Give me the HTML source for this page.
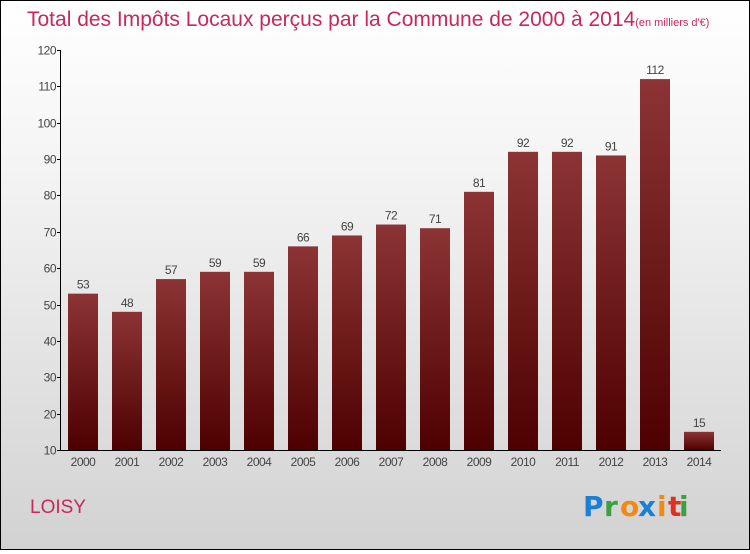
<!DOCTYPE html>
<html><head><meta charset="utf-8"><style>
html,body{margin:0;padding:0}
body{width:750px;height:550px;overflow:hidden;font-family:"Liberation Sans",sans-serif}
#wrap{position:absolute;left:0;top:0;width:748px;height:548px;border:1px solid #000;background:linear-gradient(#ffffff,#f4f4f4 30%,#d2d2d2)}
</style></head><body>
<div id="wrap">
<svg width="748" height="548" viewBox="1 1 748 548" id="chart">
<defs><linearGradient id="bg" x1="0" y1="0" x2="0" y2="1"><stop offset="0" stop-color="#8c3435"/><stop offset="1" stop-color="#4e0000"/></linearGradient></defs>
<text x="27" y="26" font-size="21" fill="#c8285a">Total des Impôts Locaux perçus par la Commune de 2000 à 2014<tspan font-size="11">(en milliers d'€)</tspan></text>
<g id="yaxis"></g>
<g id="bars"></g>
<text x="30" y="513" font-size="19" fill="#c8285a">LOISY</text>
<g font-size="28" font-weight="bold" font-family="'DejaVu Sans',sans-serif">
<text x="583" y="516" fill="#1a7fd6">P</text><text x="604" y="516" fill="#3aa040">r</text><text x="620" y="516" fill="#f08a10">o</text><text x="638" y="516" fill="#1a7fd6">x</text><text x="657" y="516" fill="#f08a10">i</text><text x="668" y="516" fill="#e03020">t</text><text x="679" y="516" fill="#3aa040">i</text>
</g>
</svg>
</div>
<script>
const categories=["2000","2001","2002","2003","2004","2005","2006","2007","2008","2009","2010","2011","2012","2013","2014"];
const values=[53,48,57,59,59,66,69,72,71,81,92,92,91,112,15];
const yTicks=[10,20,30,40,50,60,70,80,90,100,110,120];
const NS="http://www.w3.org/2000/svg";
const y0=450,y1=50,vmin=10,vmax=120;
function yScale(v){return y0-(v-vmin)/(vmax-vmin)*(y0-y1);}
function xScale(i){return 83+i*44;}
function mk(t,a,p){const e=document.createElementNS(NS,t);for(const k in a)e.setAttribute(k,a[k]);p.appendChild(e);return e;}
const ya=document.getElementById('yaxis'),bg=document.getElementById('bars');
const yl=mk('line',{x1:60.5,y1:y1,x2:60.5,y2:y0,stroke:'#000'},ya);


const xl=mk('line',{x1:60,y1:y0+0.5,x2:721,y2:y0+0.5,stroke:'#000'},ya);


yTicks.forEach(v=>{const y=Math.round(yScale(v))+0.5;
 mk('line',{x1:57,y1:y,x2:61,y2:y,stroke:'#000'},ya);
 const t=mk('text',{x:56,y:y+4,'font-size':12,'text-anchor':'end',fill:'#444','letter-spacing':'-0.5'},ya);
 t.textContent=v;
 
 
});
categories.forEach((c,i)=>{const x=xScale(i),v=values[i],y=yScale(v);
 const r=mk('rect',{x:x-15,y:y,width:30,height:y0-y,fill:'url(#bg)'},bg);
 
 
 const l=mk('text',{x:x,y:y-5,'font-size':12,'text-anchor':'middle',fill:'#444','letter-spacing':'-0.5'},bg);
 l.textContent=v;
 
 
 const xt=mk('text',{x:x,y:466,'font-size':12,'text-anchor':'middle',fill:'#444','letter-spacing':'-0.5'},bg);
 xt.textContent=c;
 
 
});
</script>
</body></html>
